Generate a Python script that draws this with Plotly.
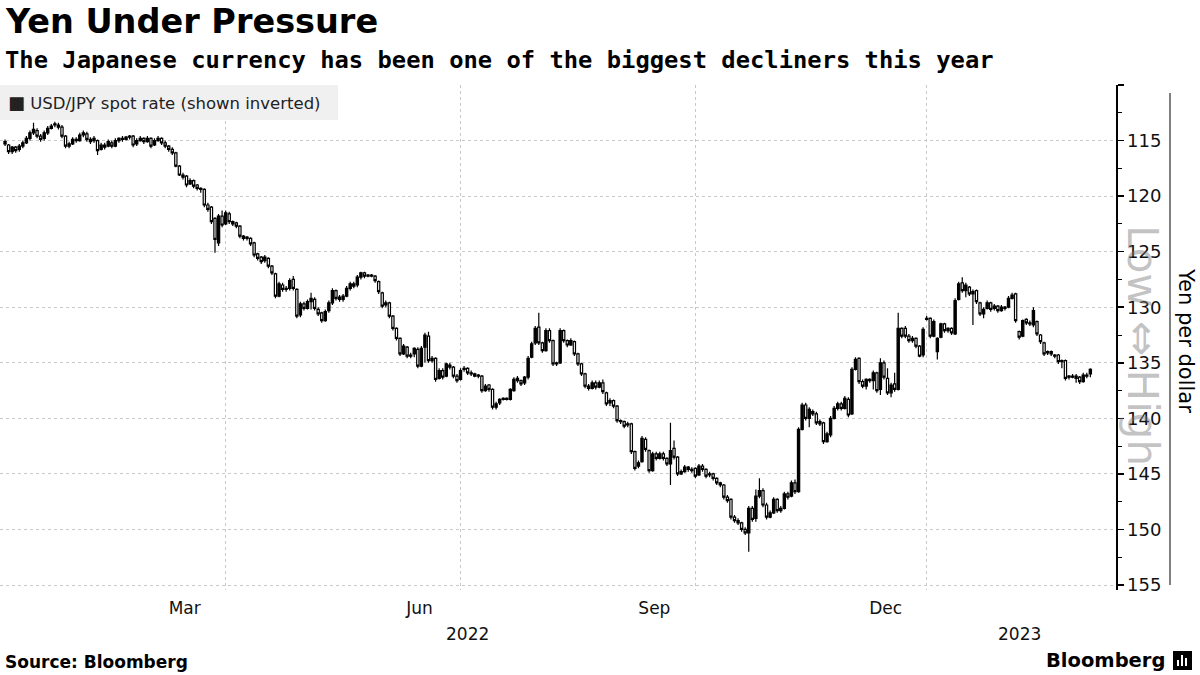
import pandas as pd
import plotly.graph_objects as go

# ---- data (USD/JPY daily OHLC) ----
dates = pd.bdate_range("2021-12-03", "2023-02-03")

open_ = [
    115.1,
    115.4,116.0,115.6,115.8,115.5, 115.2,114.8,114.3,114.1,114.6, 114.8,114.3,113.9,113.6,113.6,
    113.8,114.6,115.5,115.3,114.9, 115.0,114.5,114.4,114.9,115.0, 115.0,115.8,115.4,115.5,115.2,
    115.5,115.0,114.8,114.9,114.7, 114.6,115.3,115.0,114.8,115.1, 114.8,115.4,115.0,114.8,115.2,
    115.5,115.8,116.1,117.3,118.1, 118.2,118.9,118.6,119.0,119.3, 119.4,120.8,121.0,122.0,124.2,
    121.8,122.5,121.6,122.3,122.4, 122.7,123.6,123.8,123.8,124.2, 125.2,125.5,125.8,125.6,126.3,
    127.0,129.0,128.0,128.4,128.3, 127.5,128.4,130.7,129.7,130.1, 129.5,129.3,130.2,130.5,131.2,
    130.3,129.6,128.5,129.1,129.3, 129.0,128.3,127.9,128.0,127.3, 126.9,127.2,127.1,127.2,127.7,
    128.7,129.8,129.6,130.8,131.9, 132.8,134.2,133.6,134.4,134.2, 133.8,135.3,133.6,132.6,134.8,
    134.6,136.4,135.7,136.2,135.2, 135.4,136.2,136.5,135.6,135.5, 135.9,136.0,136.1,136.2,137.5,
    137.0,137.4,139.0,138.6,138.3, 138.2,138.3,137.5,136.4,136.6, 136.8,136.3,134.5,133.2,131.8,
    133.2,133.9,132.1,133.0,135.0, 135.0,132.1,133.0,133.4,133.1, 134.2,135.1,136.0,137.1,137.3,
    136.8,137.2,136.8,137.7,138.6, 138.4,138.9,140.2,140.3,140.6, 140.5,143.0,144.3,143.9,141.9,
    142.9,144.7,143.2,143.6,143.2, 143.6,144.1,142.7,143.5,145.0, 144.8,144.4,144.6,144.5,145.1,
    144.3,144.6,145.1,145.0,145.4, 145.8,146.0,147.1,147.3,148.9, 149.2,149.4,150.0,150.3,148.1,
    149.0,147.0,146.5,147.8,148.9, 148.5,147.3,148.3,148.1,146.8, 147.0,145.8,146.6,141.0,138.8,
    140.0,139.4,139.6,140.3,140.4, 142.1,141.5,140.0,139.1,138.7, 139.1,138.3,139.6,135.6,134.6,
    136.7,137.1,136.5,136.6,135.9, 137.4,135.0,136.4,137.7,136.9, 137.4,131.9,131.9,132.6,133.0,
    132.8,133.5,134.3,131.1,131.0, 132.6,134.0,132.7,131.5,132.1, 131.9,132.4,129.3,127.8,128.5,
    128.2,128.8,128.5,129.6,130.6, 130.1,129.6,130.1,129.9,130.3, 130.0,130.0,129.2,128.8,132.2,
    132.6,131.1,131.4,131.6,131.3, 132.5,133.2,134.1,134.0,134.3, 134.3,134.9,134.8,136.3,136.3,
    136.2,136.3,136.7,136.1,136.0,
]

high_ = [
    115.5,
    116.2,116.2,116.1,116.0,115.7, 115.3,115.0,114.5,114.8,115.1, 115.0,114.5,114.0,113.8,114.0,
    114.8,115.7,115.7,115.4,115.2, 115.1,114.7,115.1,115.3,115.2, 116.3,115.9,115.8,115.6,115.7,
    115.6,115.2,115.1,115.0,114.9, 115.6,115.5,115.1,115.3,115.2, 115.7,115.5,115.1,115.4,115.7,
    116.0,116.3,117.4,118.2,118.5, 119.2,119.0,119.3,119.5,119.7, 121.0,121.4,122.5,125.1,124.5,
    122.8,122.6,122.5,122.7,122.9, 123.8,124.0,124.0,124.5,125.5, 125.8,126.1,126.0,126.5,127.1,
    129.2,129.1,128.6,128.6,128.5, 128.5,131.0,130.9,130.3,130.2, 130.2,130.3,130.8,131.4,131.3,
    130.5,129.8,129.4,129.5,129.5, 129.1,128.5,128.3,128.2,127.5, 127.4,127.3,127.3,127.8,128.8,
    130.1,130.0,131.0,132.1,133.0, 134.4,134.3,134.6,134.6,134.5, 135.5,135.4,135.0,135.0,135.0,
    136.7,136.5,136.5,136.3,135.6, 136.4,136.8,136.6,135.8,136.1, 136.2,136.3,136.4,137.7,137.6,
    137.6,139.2,139.2,138.8,138.4, 138.4,138.4,137.6,136.8,137.1, 137.0,136.5,134.6,133.4,133.4,
    134.1,134.0,133.2,135.3,135.3, 135.1,133.2,133.6,133.5,134.4, 135.3,136.2,137.3,137.5,137.4,
    137.4,137.3,137.8,138.9,138.9, 139.1,140.4,140.5,140.9,140.8, 143.2,144.7,144.5,144.0,143.0,
    144.9,144.8,143.8,143.7,143.8, 144.3,146.0,143.7,145.2,145.1, 144.9,144.8,144.9,145.4,145.2,
    144.8,145.4,145.3,145.6,146.0, 146.2,147.3,147.6,149.1,149.4, 149.6,150.2,150.5,152.0,149.3,
    149.3,147.2,148.0,149.1,149.0, 148.6,148.5,148.5,148.2,147.3, 147.1,146.8,146.7,141.1,140.2,
    140.8,139.8,140.6,140.7,142.3, 142.2,141.7,140.1,139.3,139.3, 139.2,139.9,139.7,135.7,136.9,
    137.3,137.4,136.8,137.4,137.7, 137.9,136.5,137.9,138.1,137.6, 137.5,132.8,132.8,133.2,133.2,
    133.7,134.5,134.5,131.2,132.8, 132.7,134.7,132.8,132.3,132.3, 132.5,132.5,129.4,128.7,129.1,
    129.0,131.6,129.7,130.8,131.0, 130.2,130.4,130.3,130.5,130.4, 130.3,130.1,129.3,131.4,132.9,
    132.7,131.6,131.7,131.8,132.6, 133.3,134.4,134.3,134.4,134.6, 135.1,135.5,136.6,136.5,136.4,
    136.8,136.9,136.8,136.4,136.3,
]

low_ = [
    114.9,
    115.3,115.5,115.5,115.3,115.0, 114.6,114.1,113.4,113.9,114.4, 114.1,113.7,113.5,113.3,113.4,
    113.6,114.5,115.1,114.7,114.7, 114.3,114.1,114.2,114.7,114.6, 114.9,115.2,115.2,114.9,115.0,
    114.8,114.7,114.6,114.6,114.5, 114.5,114.8,114.6,114.7,114.6, 114.7,114.8,114.6,114.7,115.0,
    115.4,115.6,116.0,117.2,117.9, 118.1,118.4,118.5,118.9,119.2, 119.3,120.6,120.9,121.9,121.6,
    121.3,121.3,121.4,122.2,122.3, 122.6,123.5,123.6,123.7,124.1, 125.1,125.4,125.3,125.5,126.2,
    126.9,127.7,127.8,128.1,127.4, 127.2,128.3,129.5,129.5,129.3, 128.7,129.1,130.0,130.4,130.2,
    129.4,128.3,128.4,128.9,128.8, 128.1,127.7,127.7,127.1,126.8, 126.8,127.0,127.0,127.1,127.6,
    128.6,129.4,129.5,130.7,131.8, 132.7,133.3,133.5,134.1,133.6, 133.6,133.5,132.3,132.2,134.4,
    134.5,135.5,135.5,135.0,135.0, 135.3,136.0,135.5,135.3,135.4, 135.7,135.9,136.0,136.1,136.9,
    136.9,137.3,138.5,138.2,138.1, 138.1,137.3,136.3,136.2,136.5, 136.2,134.4,133.1,131.7,130.5,
    133.1,131.9,131.9,132.9,134.9, 131.9,132.0,132.9,132.8,133.0, 134.1,135.0,135.9,136.9,136.6,
    136.6,136.6,136.5,137.6,138.2, 138.3,138.8,140.1,140.2,140.3, 140.4,142.9,143.8,141.6,141.7,
    142.8,143.0,143.0,143.0,143.0, 143.5,140.4,142.0,143.4,144.6, 144.2,144.3,144.4,144.4,144.1,
    144.1,144.5,144.8,144.9,145.3, 145.7,145.9,146.9,147.2,148.7, 149.0,149.3,149.8,147.9,147.9,
    146.4,145.4,146.3,147.6,148.3, 147.1,147.2,147.9,146.6,146.6, 145.6,145.5,140.8,138.6,138.6,
    139.0,139.2,139.4,140.1,140.3, 141.2,139.8,138.9,138.5,138.5, 138.0,138.1,135.4,134.5,134.5,
    136.5,136.4,136.4,135.7,135.8, 134.6,134.8,135.5,136.8,135.9, 130.5,131.8,131.7,132.4,132.6,
    132.7,133.4,131.8,130.8,130.9, 131.1,132.7,131.4,131.4,131.8, 131.8,129.2,127.7,127.3,127.8,
    128.1,128.4,128.4,129.5,130.0, 129.4,129.5,129.7,129.8,129.8, 129.9,129.0,128.7,128.7,132.1,
    131.1,131.0,131.2,130.0,131.2, 132.4,133.1,133.9,133.9,134.2, 134.2,134.7,134.7,136.1,136.0,
    136.0,136.2,135.9,135.9,135.5,
]

close_ = [
    115.3,
    116.0,115.6,115.9,115.5,115.2, 114.8,114.3,114.0,114.6,114.9, 114.3,113.9,113.7,113.5,113.8,
    114.6,115.5,115.3,114.9,115.0, 114.5,114.3,114.9,115.1,114.8, 115.9,115.4,115.6,115.1,115.5,
    115.0,114.8,114.9,114.7,114.6, 115.4,115.0,114.8,115.1,114.8, 115.5,115.0,114.8,115.2,115.5,
    115.8,116.1,117.3,118.1,118.3, 119.0,118.6,119.1,119.3,119.4, 120.8,121.2,122.3,123.9,121.8,
    122.6,121.5,122.3,122.5,122.7, 123.6,123.8,123.7,124.3,125.3, 125.6,125.9,125.5,126.3,126.9,
    129.0,127.9,128.4,128.3,127.6, 128.3,130.8,129.7,130.1,129.5, 129.2,130.1,130.6,131.2,130.4,
    129.6,128.5,129.2,129.3,129.0, 128.3,127.9,128.1,127.3,126.9, 127.2,127.1,127.2,127.6,128.6,
    129.9,129.6,130.8,131.9,132.8, 134.2,133.5,134.4,134.3,133.7, 135.3,133.7,132.5,134.8,134.6,
    136.5,135.7,136.3,135.1,135.4, 136.2,136.6,135.7,135.5,135.9, 136.0,136.2,136.2,137.5,137.1,
    137.4,139.0,138.7,138.3,138.2, 138.3,137.4,136.5,136.6,136.9, 136.3,134.6,133.3,131.9,133.2,
    133.9,132.1,133.0,135.1,135.1, 132.1,133.0,133.4,133.0,134.2, 135.1,136.0,137.1,137.3,136.8,
    137.2,136.8,137.6,138.7,138.4, 138.9,140.2,140.3,140.7,140.5, 143.0,144.5,144.0,141.8,142.8,
    144.7,143.2,143.6,143.2,143.6, 144.1,142.9,143.5,145.0,144.8, 144.4,144.6,144.7,145.2,144.3,
    144.6,145.2,145.0,145.4,145.8, 146.0,147.1,147.4,148.9,149.2, 149.4,150.0,150.3,148.1,149.1,
    147.0,146.5,147.8,148.9,148.5, 147.3,148.3,148.1,146.8,147.1, 145.8,146.6,141.0,138.8,140.0,
    139.2,139.6,140.4,140.5,142.1, 141.4,140.0,139.1,138.7,139.1, 138.2,139.7,135.6,134.7,136.7,
    137.1,136.5,136.6,135.9,137.5, 135.0,136.3,137.7,137.0,137.4, 131.9,132.6,132.6,133.0,132.8,
    133.5,134.4,132.0,131.0,132.6, 131.3,132.8,131.5,132.1,131.9, 132.3,129.4,127.9,128.5,128.0,
    128.8,128.6,129.5,130.6,130.2, 129.6,130.2,129.9,130.3,130.0, 130.1,129.2,128.9,131.2,132.7,
    131.2,131.4,131.5,130.3,132.4, 133.1,134.2,134.0,134.2,134.4, 134.9,134.8,136.4,136.2,136.2,
    136.4,136.7,136.1,136.2,135.6,
]

month_ticks = ["2022-03-01", "2022-06-01", "2022-09-01", "2022-12-01"]
month_labels = ["Mar", "Jun", "Sep", "Dec"]
year_labels = [("2022-06-03", "2022"), ("2023-01-06", "2023")]
y_ticks = [110, 115, 120, 125, 130, 135, 140, 145, 150, 155]
y_ticktext = ["", "115", "120", "125", "130", "135", "140", "145", "150", "155"]

# ---- figure ----
W, H = 1200, 675
ML, MR, MT, MB = 0, 84, 85, 85
PW, PH = W - ML - MR, H - MT - MB


def px(x):
    return (x - ML) / PW


def py(y):
    return 1 - (y - MT) / PH


FONT = "DejaVu Sans"
MONO = "DejaVu Sans Mono"
GRID = "#c9c9c9"

fig = go.Figure(
    go.Candlestick(
        x=dates, open=open_, high=high_, low=low_, close=close_,
        increasing=dict(line=dict(color="black", width=1.2), fillcolor="white"),
        decreasing=dict(line=dict(color="black", width=1.2), fillcolor="black"),
        whiskerwidth=0, showlegend=False, hoverinfo="skip",
    )
)

fig.update_layout(
    width=W, height=H,
    margin=dict(l=ML, r=MR, t=MT, b=MB),
    paper_bgcolor="white", plot_bgcolor="white",
    font=dict(family=FONT, color="#111111"),
    showlegend=False,
    boxgap=0.1,
    xaxis=dict(
        type="date",
        rangebreaks=[dict(bounds=["sat", "mon"])],
        range=["2021-12-01 14:00", "2023-02-14 05:00"],
        tickmode="array", tickvals=month_ticks, ticktext=month_labels,
        ticks="", ticklabelshift=-41, ticklabelstandoff=6,
        tickfont=dict(size=17, family=FONT, color="#111111"),
        showgrid=True, gridcolor=GRID, griddash="3px,3px", gridwidth=1,
        showline=False, zeroline=False, rangeslider=dict(visible=False),
        fixedrange=True,
    ),
    yaxis=dict(
        side="right",
        range=[155.45, 110],
        tickmode="array", tickvals=y_ticks, ticktext=y_ticktext,
        ticks="outside", ticklen=6, tickwidth=1.5, tickcolor="black",
        tickfont=dict(size=18, family=FONT, color="#111111"),
        showline=True, linecolor="black", linewidth=1.5,
        showgrid=True, gridcolor=GRID, griddash="3px,3px", gridwidth=1,
        zeroline=False,
        minor=dict(tickmode="linear", tick0=110, dtick=2.5, ticks="outside",
                   ticklen=4, tickcolor="black", tickwidth=1, showgrid=False),
        fixedrange=True,
    ),
)

shapes = [
    # legend background box
    dict(type="rect", xref="paper", yref="paper", x0=px(0), x1=px(338), y0=py(120), y1=py(85),
         fillcolor="#f0f0f0", line=dict(width=0), layer="above"),
    # line beside the axis title
    dict(type="line", xref="paper", yref="paper", x0=px(1170), x1=px(1170), y0=py(93), y1=py(585),
         line=dict(color="black", width=1)),
    # Bloomberg icon
    dict(type="rect", xref="paper", yref="paper", x0=px(1173), x1=px(1192), y0=py(670), y1=py(651),
         fillcolor="black", line=dict(width=0)),
    dict(type="rect", xref="paper", yref="paper", x0=px(1177), x1=px(1179), y0=py(666), y1=py(660),
         fillcolor="white", line=dict(width=0)),
    dict(type="rect", xref="paper", yref="paper", x0=px(1181), x1=px(1183), y0=py(666), y1=py(655),
         fillcolor="white", line=dict(width=0)),
    dict(type="rect", xref="paper", yref="paper", x0=px(1185), x1=px(1187), y0=py(666), y1=py(658),
         fillcolor="white", line=dict(width=0)),
]
fig.update_layout(shapes=shapes)

ann = [
    dict(text="<b>Yen Under Pressure</b>", x=px(3), y=py(22), xanchor="left", yanchor="middle",
         font=dict(size=33.5, family=FONT, color="black")),
    dict(text="<b>The Japanese currency has been one of the biggest decliners this year</b>",
         x=px(3), y=py(60), xanchor="left", yanchor="middle",
         font=dict(size=23.8, family=MONO, color="black")),
    dict(text="<span style='font-size:18px'>■</span> USD/JPY spot rate (shown inverted)",
         x=px(6), y=py(102), xanchor="left",
         yanchor="middle", font=dict(size=16.5, family=FONT, color="#222222")),
    dict(text="Low ⇔ High", x=px(1143), y=py(345), xanchor="center", yanchor="middle",
         textangle=90, font=dict(size=42, family=FONT, color="rgba(120,120,120,0.45)")),
    dict(text="Yen per dollar", x=px(1186), y=py(340), xanchor="center", yanchor="middle",
         textangle=90, font=dict(size=21, family=FONT, color="black")),
    dict(text="<b>Source: Bloomberg</b>", x=px(3), y=py(662), xanchor="left", yanchor="middle",
         font=dict(size=17, family=FONT, color="black")),
    dict(text="<b>Bloomberg</b>", x=px(1167), y=py(660), xanchor="right", yanchor="middle",
         font=dict(size=19.5, family=FONT, color="black")),
]
for xd, txt in year_labels:
    ann.append(dict(text=txt, x=xd, xref="x", y=py(634), yref="paper", xanchor="center",
                    yanchor="middle", font=dict(size=17, family=FONT, color="#111111")))
for a in ann:
    a.setdefault("xref", "paper")
    a.setdefault("yref", "paper")
    a["showarrow"] = False
fig.update_layout(annotations=ann)

fig.write_html(
    "out.html",
    config={"displayModeBar": False, "staticPlot": True},
    post_script="document.body.style.margin='0px';document.body.style.overflow='hidden';",
)
